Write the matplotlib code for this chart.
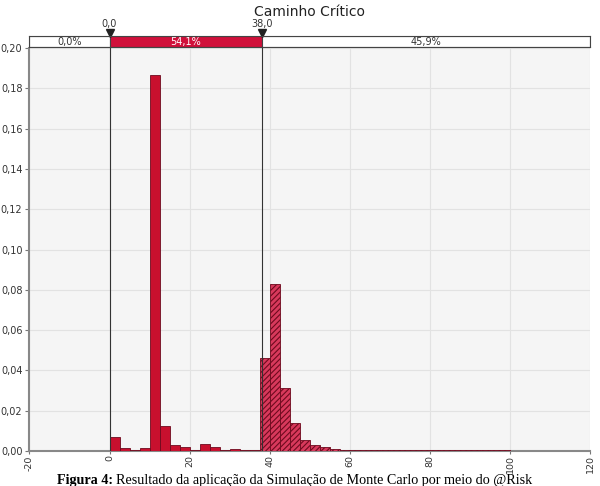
import numpy as np
import matplotlib as mpl
import matplotlib.pyplot as plt

mpl.rcParams.update({"font.family": "DejaVu Sans", "hatch.linewidth": 0.8})

BIN_W = 2.5
solid_left = np.arange(0, 37.5, BIN_W)
solid_vals = [0.0069, 0.0015, 0.0003, 0.0015, 0.1866, 0.0124, 0.0030, 0.0018,
              0.0005, 0.0033, 0.0020, 0.0005, 0.0012, 0.0006, 0.0006]
hatch_left = np.arange(37.5, 100, BIN_W)
hatch_vals = [0.0461, 0.0829, 0.0313, 0.0139, 0.0055, 0.0030, 0.0018, 0.0010,
              0.0007, 0.0005, 0.0004, 0.0004, 0.0004, 0.0005, 0.0004, 0.0003,
              0.0003, 0.0003, 0.0003, 0.0003, 0.0003, 0.0003, 0.0003, 0.0003,
              0.0003]

delims = [0.0, 38.0]
delim_labels = ["0,0", "38,0"]
seg_pcts = ["0,0%", "54,1%", "45,9%"]
x_ticks = [-20, 0, 20, 40, 60, 80, 100, 120]
y_ticks = [0.00, 0.02, 0.04, 0.06, 0.08, 0.10, 0.12, 0.14, 0.16, 0.18, 0.20]

RED = "#C8102E"
DARK = "#6E0A1E"
X0, X1 = -20, 120

fig = plt.figure(figsize=(6.0, 4.86), dpi=100)
ax = fig.add_axes([0.049, 0.072, 0.935, 0.829])
ax.set_facecolor("#F5F5F5")

ax.bar(solid_left, solid_vals, width=BIN_W, align="edge", color=RED,
       edgecolor=DARK, linewidth=0.6, zorder=3)
ax.bar(hatch_left, hatch_vals, width=BIN_W, align="edge", color="#D8395C",
       edgecolor=DARK, linewidth=0.6, hatch="//////", zorder=3)

for d in delims:
    ax.axvline(d, color="#333333", lw=0.8, zorder=4)

ax.set_xlim(X0, X1)
ax.set_ylim(0, 0.20)
ax.set_xticks(x_ticks)
ax.set_xticklabels([str(t) for t in x_ticks], rotation=90, fontsize=6.8, color="#333333")
ax.set_yticks(y_ticks)
ax.set_yticklabels([f"{v:.2f}".replace(".", ",") for v in y_ticks], fontsize=7, color="#333333")
ax.tick_params(length=3, width=0.8, color="#777777", pad=2)
ax.tick_params(axis="x", length=2, pad=1)
ax.grid(True, color="#E2E2E2", lw=0.8, zorder=0)
for s in ["top", "right"]:
    ax.spines[s].set_visible(False)
for s in ["left", "bottom"]:
    ax.spines[s].set_color("#888888")
    ax.spines[s].set_linewidth(1.5)

# ---- delimiter bar on top -------------------------------------------------
bx = fig.add_axes([0.049, 0.903, 0.935, 0.023])
bx.set_xlim(X0, X1)
bx.set_ylim(0, 1)
edges = [X0] + delims + [X1]
faces = ["white", "#D0103A", "white"]
tcols = ["#333333", "white", "#333333"]
for i in range(3):
    bx.barh(0.5, edges[i + 1] - edges[i], left=edges[i], height=1.0,
            color=faces[i], edgecolor="#444444", linewidth=0.8)
    bx.text((edges[i] + edges[i + 1]) / 2, 0.5, seg_pcts[i], ha="center",
            va="center", fontsize=7, color=tcols[i])
bx.set_xticks([])
bx.set_yticks([])
for s in bx.spines.values():
    s.set_color("#444444")
for d, lab in zip(delims, delim_labels):
    bx.plot(d, 1.3, marker="v", color="#222222", ms=6, clip_on=False)
    bx.text(d, 2.05, lab, ha="center", va="center", fontsize=7, color="#333333")

fig.text(0.516, 0.976, "Caminho Crítico", ha="center", va="center",
         fontsize=10, color="#222222")

# caption: bold label + normal text
fig.text(0.189, 0.012, "Figura 4:", ha="right", va="center", fontsize=10.2,
         family="Liberation Serif", weight="bold")
fig.text(0.193, 0.012, "Resultado da aplicação da Simulação de Monte Carlo por meio do @Risk",
         ha="left", va="center", fontsize=10.2, family="Liberation Serif")

fig.savefig("out.png", dpi=100)
